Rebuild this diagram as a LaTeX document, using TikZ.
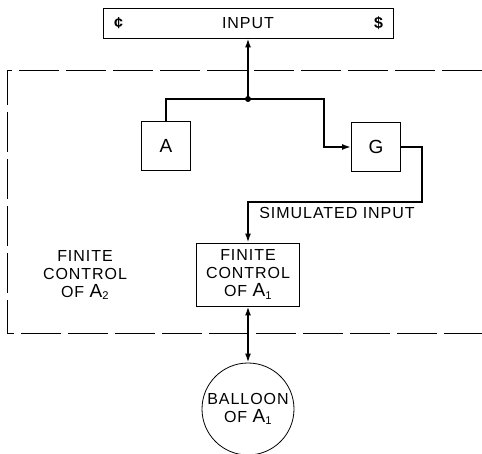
\documentclass[tikz,border=0pt]{standalone}
\usepackage{fontspec}
\setmainfont{Liberation Sans}[LetterSpace=6]
\usetikzlibrary{arrows.meta}
\newcommand{\Asub}[1]{{\fontsize{19}{18}\selectfont A}\textsubscript{#1}}
\begin{document}
\begin{tikzpicture}[x=1pt,y=-1pt,font=\fontsize{16}{18}\selectfont,
  box/.style={draw,line width=0.8pt,inner sep=0pt},
  wire/.style={line width=2.4pt},
  >={Latex[length=9pt,width=6pt]}]
\useasboundingbox (0,0) rectangle (482,454);

% dashed outline of the finite control of A2 (open on the right)
\draw[line width=0.8pt,dash pattern=on 40pt off 7pt] (482,70) -- (7,70) -- (7,333) -- (482,333);

\node[box,minimum width=290pt,minimum height=30pt] (input) at (248,23) {INPUT};
\node (cent) at (119,23) {\textbf{¢}};
\node (dollar) at (379,23) {\textbf{\$}};

\node[box,minimum size=49pt,font=\fontsize{19}{18}\selectfont] (A) at (166,146) {A};
\node[box,minimum size=49pt,font=\fontsize{19}{18}\selectfont] (G) at (376,147) {G};
\node[box,minimum width=103pt,minimum height=63pt,align=center] (fc1) at (248,274.5) {FINITE\\CONTROL\\OF \Asub{1}};
\node[align=center] (fc2) at (85,275) {FINITE\\CONTROL\\OF \Asub{2}};
\node[draw,circle,line width=0.8pt,minimum size=92pt,inner sep=0pt,align=center] (balloon) at (248,409) {BALLOON\\OF \Asub{1}};
\node (sim) at (337,213) {SIMULATED INPUT};

\coordinate (junc) at (248,99);
\fill (junc) circle (3pt);
\draw[wire,->] (junc) -- (input.south);
\draw[wire] (junc) -| (A.north);
\draw[wire,->] (junc) -| ([xshift=-27pt]G.west) -- (G.west);
\draw[wire,->] (G.east) -| (422,202) -| (fc1.north);
\draw[wire,<->] (fc1.south) -- (balloon.north);
\end{tikzpicture}
\end{document}
